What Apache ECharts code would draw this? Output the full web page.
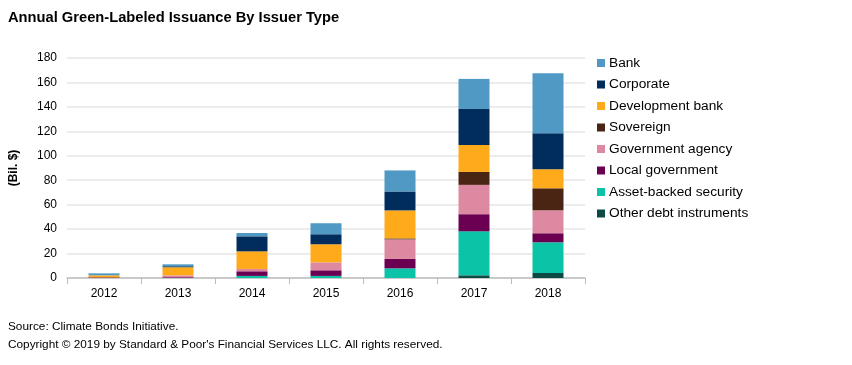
<!DOCTYPE html>
<html><head><meta charset="utf-8">
<script src="https://cdn.jsdelivr.net/npm/echarts@6/dist/echarts.min.js"></script>
<style>html,body{margin:0;padding:0;background:#fff;}#c{width:852px;height:365px;}</style>
</head><body><div id="c"></div>
<script>
var years = ['2012','2013','2014','2015','2016','2017','2018'];
var other = [0, 0, 0, 0, 0, 2.2, 4.1];
var abs = [0, 0, 1.7, 1.7, 7.9, 36.0, 25.1];
var localGov = [0.5, 0.6, 3.8, 4.6, 7.7, 14.0, 7.4];
var govAgency = [0, 1.6, 1.9, 6.5, 16.0, 24.0, 18.8];
var sovereign = [0, 0, 0, 0, 0.8, 10.6, 18.0];
var devBank = [1.7, 6.6, 14.4, 14.8, 22.9, 22.0, 15.6];
var corporate = [0, 0.8, 12.3, 8.2, 15.5, 29.5, 29.4];
var bank = [1.6, 1.6, 2.7, 9.0, 17.2, 24.6, 49.1];

var names = ['Other debt instruments','Asset-backed security','Local government','Government agency','Sovereign','Development bank','Corporate','Bank'];
var colors = ['#0E4A45','#0BC3A6','#6B0053','#DD89A1','#4A2513','#FFAA1A','#002D5C','#4F99C4'];
var datas = [other, abs, localGov, govAgency, sovereign, devBank, corporate, bank];

var series = names.map(function(n,i){
  return {name:n,type:'bar',stack:'s',data:datas[i],barWidth:31,itemStyle:{color:colors[i]}};
});

var ff = 'Liberation Sans, Arial, sans-serif';
var chart = echarts.init(document.getElementById('c'));
chart.setOption({
  animation:false,
  textStyle:{fontFamily:ff},
  title:[
    {text:'Annual Green-Labeled Issuance By Issuer Type',left:3,top:5,textStyle:{fontSize:14.7,fontWeight:'bold',color:'#000',fontFamily:ff}},
    {text:'Source: Climate Bonds Initiative.',left:3,top:316,textStyle:{fontSize:11.8,fontWeight:'normal',color:'#000',fontFamily:ff}},
    {text:'Copyright © 2019 by Standard & Poor\'s Financial Services LLC. All rights reserved.',left:3,top:334,textStyle:{fontSize:11.8,fontWeight:'normal',color:'#000',fontFamily:ff}}
  ],
  legend:{
    orient:'vertical',left:592,top:51,itemWidth:8,itemHeight:8,itemGap:7.5,
    icon:'rect',
    data:names.slice().reverse(),
    textStyle:{fontSize:13.7,color:'#000',padding:[0,0,0,-1]}
  },
  grid:{left:67,right:267,top:58,bottom:87},
  xAxis:{type:'category',data:years,
    axisLine:{lineStyle:{color:'#BDBDBD',width:1.5}},
    axisTick:{show:true,length:6,lineStyle:{color:'#BDBDBD'}},
    axisLabel:{color:'#000',fontSize:12,margin:10}},
  yAxis:{type:'value',min:0,max:180,interval:20,
    name:'(Bil. $)',nameLocation:'middle',nameGap:47,nameRotate:90,
    nameTextStyle:{fontWeight:'bold',fontSize:12,color:'#000'},
    axisLine:{show:false},axisTick:{show:false},
    axisLabel:{color:'#000',fontSize:12,margin:10},
    splitLine:{lineStyle:{color:'#E6E6E6',width:1.5}}},
  series:series
});
</script></body></html>
